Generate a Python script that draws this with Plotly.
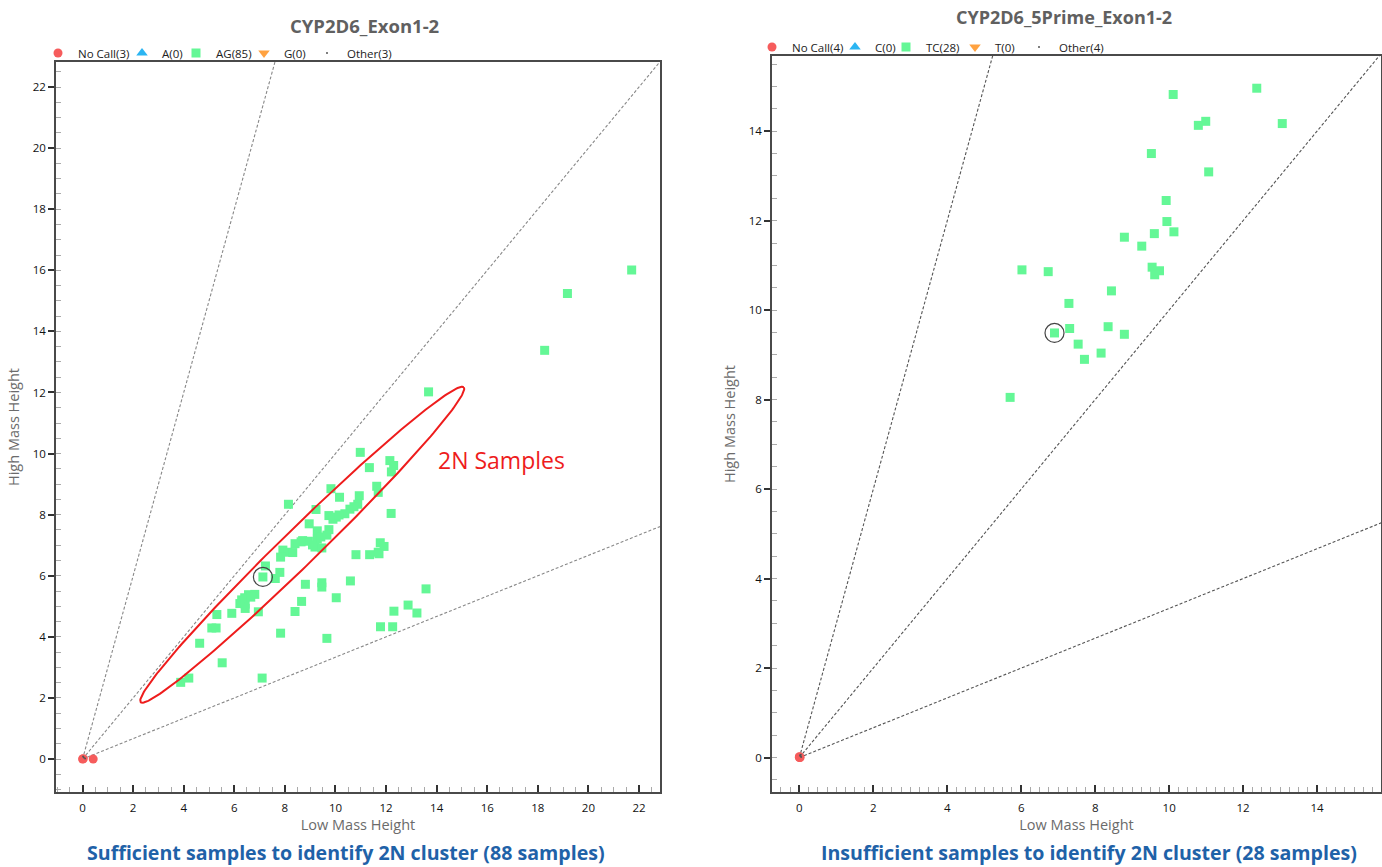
import numpy as np
import plotly.graph_objects as go

# ---------------- data ----------------
# Left panel: CYP2D6_Exon1-2
ag_x = [21.71, 19.17, 18.27, 13.68, 10.98, 11.34, 12.15, 12.30, 12.21, 9.82,
        10.16, 11.63, 11.69, 8.14, 10.94, 10.88, 10.57, 10.37, 9.23, 12.20,
        9.74, 9.90, 10.03, 8.96, 9.28, 9.74, 9.66, 9.28, 8.70, 8.93,
        8.40, 9.09, 9.19, 9.46, 7.92, 8.11, 8.31, 7.83, 10.81, 11.35,
        11.69, 11.77, 11.92, 7.23, 7.80, 7.13, 7.62, 8.81, 9.46, 9.46,
        10.59, 6.56, 6.81, 6.29, 6.43, 6.22, 6.43, 8.66, 10.03, 13.58,
        5.90, 5.31, 6.95, 8.40, 12.87, 13.22, 12.31, 5.11, 5.28, 11.78,
        12.26, 4.63, 7.83, 9.66, 5.52, 7.10, 3.88, 4.20, 10.73, 10.14,
        9.42, 8.64, 11.72, 6.41, 6.65]
ag_y = [16.01, 15.24, 13.38, 12.02, 10.04, 9.54, 9.77, 9.61, 9.40, 8.85,
        8.57, 8.93, 8.73, 8.34, 8.62, 8.34, 8.18, 8.03, 8.17, 8.04,
        7.97, 7.85, 7.92, 7.70, 7.47, 7.51, 7.33, 7.20, 7.15, 7.13,
        7.05, 7.01, 6.94, 6.91, 6.84, 6.77, 6.76, 6.61, 6.69, 6.69,
        6.77, 7.08, 6.96, 6.32, 6.11, 5.96, 5.91, 5.72, 5.77, 5.63,
        5.83, 5.38, 5.39, 5.21, 5.07, 5.09, 4.93, 5.16, 5.28, 5.57,
        4.77, 4.73, 4.82, 4.83, 5.04, 4.78, 4.84, 4.29, 4.29, 4.33,
        4.33, 3.79, 4.12, 3.95, 3.15, 2.65, 2.51, 2.65, 8.26, 7.99,
        7.27, 7.11, 6.72, 5.28, 5.30]
nocall1_x = [0.0, 0.03, 0.42]
nocall1_y = [0.0, 0.01, 0.0]
other1_x = [0.05, 0.10, 0.02]
other1_y = [0.05, 0.02, 0.08]
selected1 = (7.13, 5.96)

# Right panel: CYP2D6_5Prime_Exon1-2
tc_x = [12.37, 10.11, 10.99, 10.79, 13.06, 9.52, 11.07, 9.92, 9.94, 9.60,
        10.13, 8.79, 9.26, 9.54, 9.74, 9.61, 6.02, 6.73, 8.44, 7.29,
        7.31, 6.90, 8.35, 8.79, 7.54, 8.16, 7.71, 5.70]
tc_y = [14.96, 14.82, 14.22, 14.13, 14.17, 13.50, 13.09, 12.45, 11.98, 11.71,
        11.75, 11.63, 11.43, 10.96, 10.88, 10.79, 10.90, 10.86, 10.43, 10.15,
        9.59, 9.49, 9.63, 9.46, 9.24, 9.04, 8.90, 8.05]
nocall2_x = [0.0, 0.01, 0.02, 0.0]
nocall2_y = [0.0, 0.01, 0.0, 0.02]
other2_x = [0.03, 0.05, 0.02, 0.04]
other2_y = [0.03, 0.01, 0.05, 0.06]
selected2 = (6.90, 9.49)

cluster_slopes = [3.0, 1.0, 1.0 / 3.0]

left_legend = ["No Call(3)", "A(0)", "AG(85)", "G(0)", "Other(3)"]
right_legend = ["No Call(4)", "C(0)", "TC(28)", "T(0)", "Other(4)"]

left_title = "CYP2D6_Exon1-2"
right_title = "CYP2D6_5Prime_Exon1-2"
left_caption = "Sufficient samples to identify 2N cluster (88 samples)"
right_caption = "Insufficient samples to identify 2N cluster (28 samples)"

# ---------------- style / layout ----------------
W, H = 1382, 867
RED = "#F65C5C"
BLUE = "#2BB5F2"
GREEN = "#64F796"
ORANGE = "#FFA240"
FONT = "Open Sans"

xr1, yr1 = [-1.05, 22.83], [-1.08, 22.82]
xr2, yr2 = [-0.74, 15.73], [-0.77, 15.68]
dom_x1 = [56 / W, 660 / W]
dom_y1 = [(H - 792) / H, (H - 62) / H]
dom_x2 = [772 / W, 1381 / W]
dom_y2 = [(H - 792) / H, (H - 56) / H]

# legend item marker centres (px) and vertical centre (px)
left_leg_px = [58, 142, 196, 264, 327]
right_leg_px = [772, 855, 906, 975, 1039]
left_leg_y, right_leg_y = 53, 47

fig = go.Figure()


def add_panel(xa, ya, leg_ids, names, pts, xr, slope_color):
    for s in cluster_slopes:
        xe = xr[1] * 1.05
        fig.add_trace(go.Scatter(x=[0, xe], y=[0, s * xe], mode="lines",
                                 line=dict(color=slope_color, width=1.1, dash="3px,2px"),
                                 xaxis=xa, yaxis=ya, showlegend=False, hoverinfo="skip"))
    nc_x, nc_y, g_x, g_y, o_x, o_y = pts
    specs = [
        (nc_x, nc_y, "circle", 9, RED),
        ([None], [None], "triangle-up", 10, BLUE),
        (g_x, g_y, "square", 9, GREEN),
        ([None], [None], "triangle-down", 10, ORANGE),
        (o_x, o_y, "circle", 2, "#555555"),
    ]
    for (px_, py_, sym, sz, col), nm, lid in zip(specs, names, leg_ids):
        fig.add_trace(go.Scatter(x=px_, y=py_, mode="markers", name=nm,
                                 marker=dict(symbol=sym, size=sz, color=col),
                                 xaxis=xa, yaxis=ya, legend=lid))


left_ids = ["legend"] + [f"legend{i}" for i in range(2, 6)]
right_ids = [f"legend{i}" for i in range(6, 11)]

add_panel("x", "y", left_ids, left_legend,
          (nocall1_x, nocall1_y, ag_x, ag_y, other1_x, other1_y), xr1, "#888888")
add_panel("x2", "y2", right_ids, right_legend,
          (nocall2_x, nocall2_y, tc_x, tc_y, other2_x, other2_y), xr2, "#555555")

for (sx, sy), xa, ya in [(selected1, "x", "y"), (selected2, "x2", "y2")]:
    fig.add_trace(go.Scatter(x=[sx], y=[sy], mode="markers", showlegend=False,
                             marker=dict(symbol="circle-open", size=19, color="#444444",
                                         line=dict(color="#444444", width=1.2)),
                             xaxis=xa, yaxis=ya, hoverinfo="skip"))

# 2N ellipse (shape defined in screen pixels, converted to data units)
tip_a = (2.30, 1.86)
tip_b = (15.07, 12.17)
semi_minor_px = 18.0
pxx = (dom_x1[1] - dom_x1[0]) * W / (xr1[1] - xr1[0])
pxy = (dom_y1[1] - dom_y1[0]) * H / (yr1[1] - yr1[0])
ax_, ay_ = tip_a[0] * pxx, tip_a[1] * pxy
bx_, by_ = tip_b[0] * pxx, tip_b[1] * pxy
cx, cy = (ax_ + bx_) / 2, (ay_ + by_) / 2
semi_major = np.hypot(bx_ - ax_, by_ - ay_) / 2
ang = np.arctan2(by_ - ay_, bx_ - ax_)
t = np.linspace(0, 2 * np.pi, 241)
ex = cx + semi_major * np.cos(t) * np.cos(ang) - semi_minor_px * np.sin(t) * np.sin(ang)
ey = cy + semi_major * np.cos(t) * np.sin(ang) + semi_minor_px * np.sin(t) * np.cos(ang)
fig.add_trace(go.Scatter(x=ex / pxx, y=ey / pxy, mode="lines", showlegend=False,
                         line=dict(color="#EE1C1C", width=2), hoverinfo="skip",
                         xaxis="x", yaxis="y"))


def axis_common(rng, dom, minor_dtick, tick_inside, anchor, title, maxtick):
    return dict(
        domain=dom, range=rng, anchor=anchor,
        tickmode="array", tickvals=list(range(0, maxtick + 1, 2)),
        ticks="inside" if tick_inside else "outside",
        ticklen=7 if tick_inside else 6, tickwidth=1.5, tickcolor="#333333",
        minor=dict(dtick=minor_dtick, tick0=0, ticks="inside", ticklen=5,
                   tickwidth=1, tickcolor="#aaaaaa", showgrid=False),
        showline=True, linecolor="#4a4a4a", linewidth=1.5, mirror=True,
        showgrid=False, zeroline=False,
        tickfont=dict(family=FONT, size=11.5, color="#111111"),
        title=dict(text=title, font=dict(family=FONT, size=14.5, color="#6b6b6b")),
    )


xa1 = axis_common(xr1, dom_x1, 0.5, True, "y", "Low Mass Height", 22)
xa1.update(ticklabelstandoff=4, title_standoff=4)
ya1 = axis_common(yr1, dom_y1, 0.5, False, "x", "High Mass Height", 22)
ya1.update(title_standoff=10)
xa2 = axis_common(xr2, dom_x2, 0.25, True, "y2", "Low Mass Height", 14)
xa2.update(ticklabelstandoff=4, title_standoff=4)
ya2 = axis_common(yr2, dom_y2, 0.5, False, "x2", "High Mass Height", 14)
ya2.update(title_standoff=10)

legend_common = dict(orientation="h", yanchor="middle", xanchor="left",
                     font=dict(family=FONT, size=11.5, color="#222222"),
                     itemwidth=30, bgcolor="rgba(0,0,0,0)")
legends = {}
for lid, mx in zip(left_ids, left_leg_px):
    legends[lid] = dict(x=(mx - 20) / W, y=(H - left_leg_y) / H, **legend_common)
for lid, mx in zip(right_ids, right_leg_px):
    legends[lid] = dict(x=(mx - 20) / W, y=(H - right_leg_y) / H, **legend_common)


def paper_text(text, xpx, ypx, size, color, bold):
    f = dict(family=FONT, size=size, color=color)
    if bold:
        f["weight"] = "bold"
    return dict(text=text, x=xpx / W, y=(H - ypx) / H, xref="paper", yref="paper",
                xanchor="center", yanchor="middle", showarrow=False, font=f,
                borderpad=0)


fig.update_layout(
    width=W, height=H,
    margin=dict(l=0, r=0, t=0, b=0),
    paper_bgcolor="white", plot_bgcolor="white",
    font=dict(family=FONT),
    xaxis=xa1, yaxis=ya1, xaxis2=xa2, yaxis2=ya2,
    annotations=[
        paper_text(left_title, 364, 25, 18.5, "#606060", True),
        paper_text(right_title, 1064, 17, 18, "#606060", True),
        paper_text(left_caption, 346, 852, 19.6, "#1F62A8", True),
        paper_text(right_caption, 1089, 852, 19.6, "#1F62A8", True),
        dict(text="2N Samples", x=13.97, y=9.8, xref="x", yref="y", xanchor="left",
             yanchor="middle", showarrow=False,
             font=dict(family=FONT, size=23, color="#EE1C1C")),
    ],
    **legends,
)

fig.write_html("out.html", config={"displayModeBar": False},
               post_script="document.body.style.margin='0';")
